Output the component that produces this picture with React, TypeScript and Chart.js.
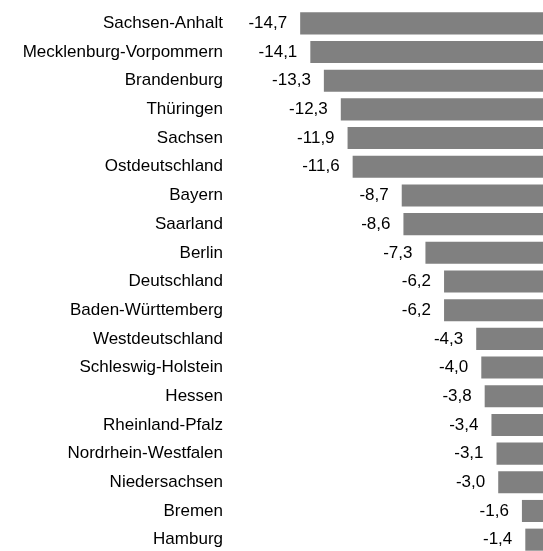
import React, { useEffect, useRef } from "react";
import { Chart, registerables } from "chart.js";

Chart.register(...registerables);

const categories: string[] = [
  "Sachsen-Anhalt",
  "Mecklenburg-Vorpommern",
  "Brandenburg",
  "Thüringen",
  "Sachsen",
  "Ostdeutschland",
  "Bayern",
  "Saarland",
  "Berlin",
  "Deutschland",
  "Baden-Württemberg",
  "Westdeutschland",
  "Schleswig-Holstein",
  "Hessen",
  "Rheinland-Pfalz",
  "Nordrhein-Westfalen",
  "Niedersachsen",
  "Bremen",
  "Hamburg",
];

const values: number[] = [
  -14.7, -14.1, -13.3, -12.3, -11.9, -11.6, -8.7, -8.6, -7.3, -6.2, -6.2, -4.3,
  -4.0, -3.8, -3.4, -3.1, -3.0, -1.6, -1.4,
];

const FONT = "'Liberation Sans', Arial, sans-serif";
const FONT_SIZE = 17;

const valueLabels = {
  id: "valueLabels",
  afterDatasetsDraw(chart: any) {
    const ctx = chart.ctx;
    const meta = chart.getDatasetMeta(0);
    ctx.save();
    ctx.font = `${FONT_SIZE}px ${FONT}`;
    ctx.fillStyle = "#000000";
    ctx.textAlign = "right";
    ctx.textBaseline = "middle";
    meta.data.forEach((bar: any, i: number) => {
      const v = values[i];
      const txt = v.toFixed(1).replace(".", ",");
      ctx.fillText(txt, bar.x - 13, bar.y);
    });
    ctx.restore();
  },
};

export default function App() {
  const ref = useRef<HTMLCanvasElement | null>(null);
  useEffect(() => {
    if (!ref.current) return;
    const chart = new Chart(ref.current, {
      type: "bar",
      data: {
        labels: categories,
        datasets: [
          {
            data: values,
            backgroundColor: "#808080",
            borderWidth: 0,
            barPercentage: 0.77,
            categoryPercentage: 1,
          },
        ],
      },
      options: {
        indexAxis: "y",
        responsive: false,
        animation: false,
        devicePixelRatio: 1,
        layout: { padding: { top: 9, left: 0, right: 0, bottom: 0 } },
        plugins: {
          legend: { display: false },
          tooltip: { enabled: false },
        },
        scales: {
          x: {
            display: false,
            min: -18.55,
            max: 0,
          },
          y: {
            offset: true,
            grid: { display: false, drawTicks: false, tickLength: 0 },
            border: { display: false },
            ticks: {
              padding: 12,
              color: "#000000",
              font: { family: FONT, size: FONT_SIZE },
            },
            afterFit(scale: any) {
              scale.width = 235;
              scale.paddingTop = 0;
              scale.paddingBottom = 0;
            },
          },
        },
      },
      plugins: [valueLabels],
    });
    return () => chart.destroy();
  }, []);
  return (
    <div
      style={{
        position: "fixed",
        left: 0,
        top: 0,
        width: 543,
        height: 551,
        overflow: "hidden",
        background: "#ffffff",
      }}
    >
      <canvas
        ref={ref}
        width={549}
        height={554}
        style={{ width: 549, height: 554, display: "block" }}
      />
    </div>
  );
}
